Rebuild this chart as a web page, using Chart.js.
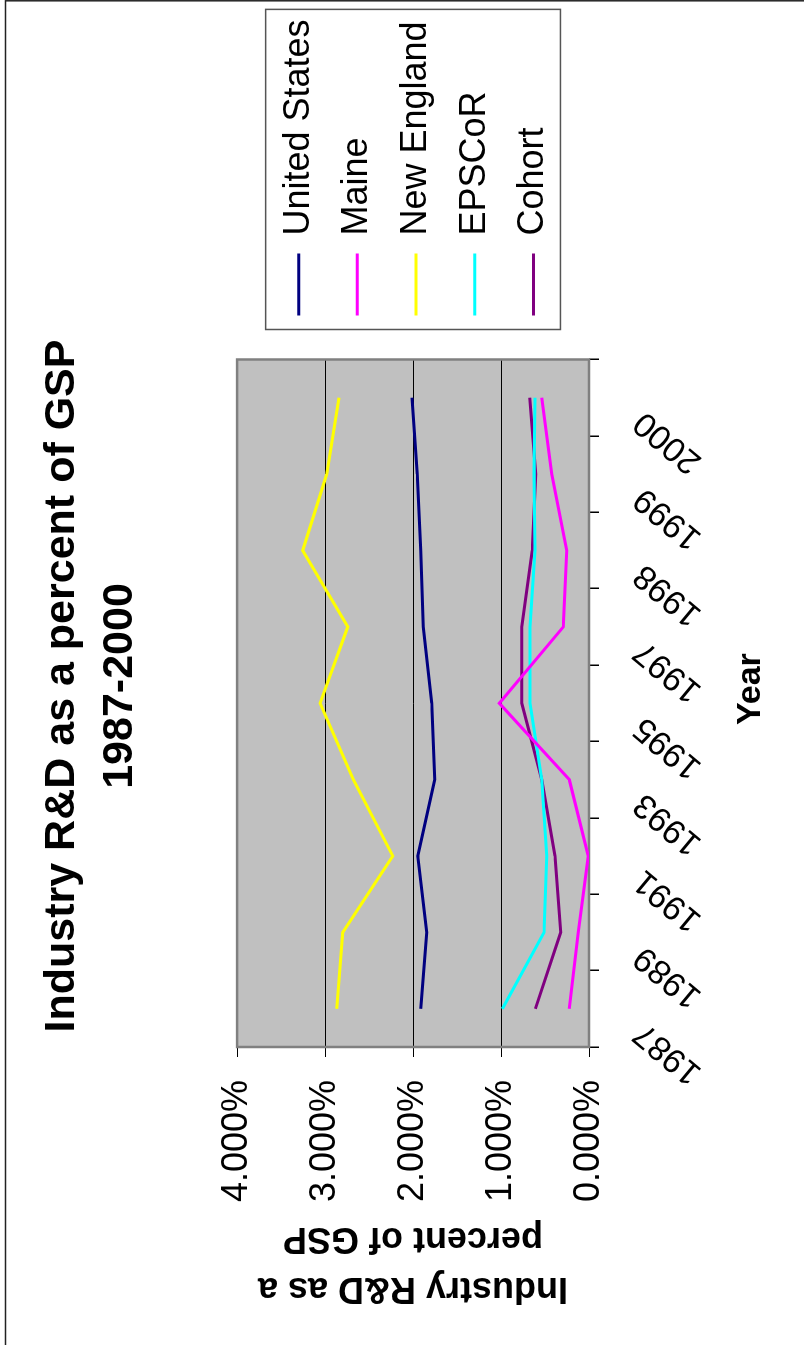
<!DOCTYPE html>
<html>
<head>
<meta charset="utf-8">
<script src="https://cdn.jsdelivr.net/npm/chart.js@4.4.1/dist/chart.umd.min.js"></script>
<style>
  html, body { margin: 0; padding: 0; background: #fff; overflow: hidden; width: 804px; height: 1345px; }
  /* the chart is laid out landscape and turned a quarter turn to stand upright */
  #wrap { position: absolute; left: 0; top: 0; width: 1345px; height: 804px;
          transform-origin: 0 0; transform: translateY(1345px) rotate(-90deg); }
  canvas { display: block; }
</style>
</head>
<body>
<div id="wrap"><canvas id="c" width="1345" height="804"></canvas></div>
<script>
// Industry R&D as a percent of gross state product
const years = ['1987', '1989', '1991', '1993', '1995', '1997', '1998', '1999', '2000'];
const unitedStates = [1.913, 1.845, 1.947, 1.754, 1.788, 1.883, 1.913, 1.951, 2.011];
const maine        = [0.224, 0.121, 0.008, 0.224, 1.019, 0.292, 0.254, 0.424, 0.538];
const newEngland   = [2.867, 2.799, 2.231, 2.678, 3.057, 2.742, 3.254, 2.981, 2.841];
const epscor       = [0.985, 0.511, 0.481, 0.538, 0.670, 0.670, 0.614, 0.625, 0.614];
const cohort       = [0.610, 0.322, 0.386, 0.538, 0.765, 0.765, 0.644, 0.606, 0.674];
const yTicks = [0, 1, 2, 3, 4];

const FONT = "'Liberation Sans', Arial, Helvetica, sans-serif";

// grey plot area with a darker frame
const plotFrame = {
  id: 'plotFrame',
  beforeDraw(chart, args, o) {
    const { ctx, chartArea: a } = chart;
    ctx.save();
    ctx.fillStyle = o.fill;
    ctx.fillRect(a.left, a.top, a.right - a.left, a.bottom - a.top);
    ctx.restore();
  },
  beforeDatasetsDraw(chart, args, o) {
    const { ctx, chartArea: a } = chart;
    ctx.save();
    ctx.strokeStyle = o.stroke;
    ctx.lineWidth = o.width;
    ctx.strokeRect(a.left, a.top, a.right - a.left, a.bottom - a.top);
    ctx.restore();
  }
};

// moves the legend a little away from the plot and draws a box round it
const legendBox = {
  id: 'legendBox',
  afterLayout(chart, args, o) {
    const lg = chart.legend;
    const pad = lg.options.labels.padding;
    const dx = chart.chartArea.right + o.gap - (lg.left + pad);
    lg.left += dx; lg.right += dx;
    lg.top += o.dy; lg.bottom += o.dy;
  },
  afterDraw(chart, args, o) {
    const hb = chart.legend.legendHitBoxes;
    if (!hb || !hb.length) return;
    const left = Math.min(...hb.map(h => h.left)) - o.padLeft;
    const right = Math.max(...hb.map(h => h.left + h.width)) + o.padRight;
    const top = hb[0].top - o.padTop;
    const last = hb[hb.length - 1];
    const bottom = last.top + last.height + o.padBottom;
    const ctx = chart.ctx;
    ctx.save();
    ctx.strokeStyle = o.stroke;
    ctx.lineWidth = o.width;
    ctx.strokeRect(left, top, right - left, bottom - top);
    ctx.restore();
  }
};

// thin outer border of the chart object
const outerBorder = {
  id: 'outerBorder',
  afterDraw(chart, args, o) {
    const ctx = chart.ctx;
    ctx.save();
    ctx.strokeStyle = o.stroke;
    ctx.lineWidth = o.width;
    ctx.beginPath();
    ctx.moveTo(0, o.top);
    ctx.lineTo(chart.width - o.right, o.top);
    ctx.lineTo(chart.width - o.right, chart.height);
    ctx.stroke();
    ctx.restore();
  }
};

function series(label, data, color) {
  return {
    label, data,
    borderColor: color, backgroundColor: color,
    borderWidth: 3, pointRadius: 0, tension: 0, fill: false
  };
}

new Chart(document.getElementById('c'), {
  type: 'line',
  data: {
    labels: years,
    datasets: [
      series('United States', unitedStates, '#000080'),
      series('Maine', maine, '#FF00FF'),
      series('New England', newEngland, '#FFFF00'),
      series('EPSCoR', epscor, '#00FFFF'),
      series('Cohort', cohort, '#800080')
    ]
  },
  options: {
    responsive: false,
    animation: false,
    devicePixelRatio: 1,
    layout: { padding: { left: 6, right: 33, top: 0, bottom: 0 } },
    plugins: {
      title: {
        display: true,
        text: ['Industry R&D as a percent of GSP', '1987-2000'],
        color: '#000',
        font: { family: FONT, size: 43, weight: 'bold', lineHeight: 1.35 },
        padding: { top: 33.5, bottom: 87.5 }
      },
      legend: {
        position: 'right',
        align: 'center',
        fullSize: false,
        labels: {
          color: '#000',
          font: { family: FONT, size: 36 },
          usePointStyle: true,
          pointStyle: 'line',
          pointStyleWidth: 62,
          padding: 22.7
        }
      },
      tooltip: { enabled: false },
      plotFrame: { fill: '#C0C0C0', stroke: '#808080', width: 2.5 },
      legendBox: { gap: 44, dy: 3, padLeft: 14, padRight: 10, padTop: 15, padBottom: 9, stroke: '#555', width: 1.5 },
      outerBorder: { top: 5.5, right: 0.8, stroke: '#222', width: 1.5 }
    },
    scales: {
      x: {
        type: 'category',
        offset: true,
        grid: { offset: true, drawOnChartArea: false, drawTicks: true, tickLength: 10, tickColor: '#000', lineWidth: 1.5 },
        border: { display: false },
        ticks: {
          color: '#000',
          font: { family: FONT, size: 34 },
          minRotation: 50, maxRotation: 50,
          padding: 27,
          labelOffset: -20,
          autoSkip: false
        },
        title: {
          display: true,
          text: '   Year',
          color: '#000',
          font: { family: FONT, size: 34, weight: 'bold' },
          padding: { top: 0, bottom: 33 }
        },
        afterFit(scale) { scale.height = 215; }
      },
      y: {
        min: 0, max: 4,
        afterBuildTicks(scale) { scale.ticks = yTicks.map(v => ({ value: v })); },
        grid: { color: '#000', lineWidth: 1, tickLength: 10, tickColor: '#000' },
        border: { display: false },
        ticks: {
          color: '#000',
          font: { family: FONT, size: 36 },
          padding: 23,
          callback: v => v.toFixed(3) + '%'
        },
        title: {
          display: true,
          text: ['Industry R&D as a', 'percent of GSP'],
          color: '#000',
          font: { family: FONT, size: 36, weight: 'bold', lineHeight: 1.39 },
          padding: { top: 25.6, bottom: 0 }
        },
        afterFit(scale) { scale.width = 292; }
      }
    }
  },
  plugins: [plotFrame, legendBox, outerBorder]
});
</script>
</body>
</html>
